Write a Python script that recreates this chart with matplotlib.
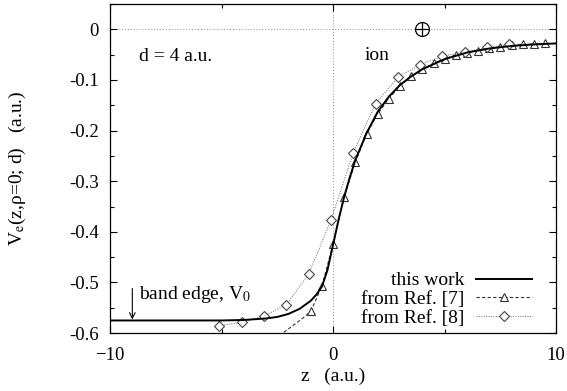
import numpy as np
import matplotlib
matplotlib.use('Agg')
import matplotlib.pyplot as plt
from matplotlib.ticker import MultipleLocator

plt.rcParams['font.family'] = ['Liberation Serif', 'DejaVu Serif']
plt.rcParams['mathtext.fontset'] = 'stix'

# this work: electron potential along the z axis (solid curve)
this_work_z = [-10, -6, -5, -4, -3, -2.5, -2, -1.5, -1, -0.75, -0.5, -0.25, 0,
               0.25, 0.5, 0.75, 1, 1.5, 2, 2.5, 3, 3.5, 4, 5, 6, 7, 8, 9, 10]
this_work_v = [-0.575, -0.575, -0.575, -0.574, -0.571, -0.568, -0.562, -0.552,
               -0.536, -0.524, -0.508, -0.475, -0.425, -0.375, -0.330, -0.292,
               -0.258, -0.205, -0.163, -0.133, -0.110, -0.093, -0.079, -0.059,
               -0.046, -0.038, -0.033, -0.030, -0.028]

# Ref. [7] (triangles) and the tail of its curve below the marked points
ref7_z = [-1, -0.5, 0, 0.5, 1, 1.5, 2, 2.5, 3, 3.5, 4, 4.5, 5, 5.5, 6, 6.5,
          7, 7.5, 8, 8.5, 9, 9.5]
ref7_v = [-0.557, -0.507, -0.424, -0.331, -0.262, -0.207, -0.167, -0.137,
          -0.112, -0.093, -0.079, -0.067, -0.058, -0.051, -0.046, -0.042,
          -0.038, -0.035, -0.032, -0.030, -0.029, -0.028]
ref7_tail_z = [-2.6, -2.2, -1.8, -1.4, -1]
ref7_tail_v = [-0.612, -0.598, -0.585, -0.572, -0.557]

# Ref. [8] (diamonds)
ref8_z = [-5.1, -4.1, -3.1, -2.1, -1.1, -0.1, 0.9, 1.9, 2.9, 3.9, 4.9, 5.9, 6.9, 7.9]
ref8_v = [-0.585, -0.579, -0.566, -0.544, -0.484, -0.377, -0.244, -0.147,
          -0.095, -0.070, -0.053, -0.045, -0.036, -0.030]

ion_z, ion_v = 4.0, 0.0
band_edge_z = -9.0
band_edge_v = -0.575

FS = 14

fig = plt.figure(figsize=(5.67, 3.91), dpi=100)
ax = fig.add_axes([0.194, 0.148, 0.787, 0.842])

# zero lines
ax.axhline(0, color='#888888', lw=0.7, ls=(0, (1, 2)), zorder=1)
ax.axvline(0, color='#888888', lw=0.7, ls=(0, (1, 2)), zorder=1)

ax.plot(this_work_z, this_work_v, color='black', lw=1.4, label='this work', zorder=4)
ax.plot(ref7_tail_z, ref7_tail_v, color='#333333', lw=0.8, ls=(0, (3, 2)), zorder=3)
ax.plot(ref7_z, ref7_v, color='#333333', lw=0.8, ls=(0, (3, 2)), marker='^',
        ms=6, mfc='white', mec='#333333', mew=0.8, label='from Ref. [7]', zorder=3)
ax.plot(ref8_z, ref8_v, color='#666666', lw=0.7, ls=(0, (1, 1.5)), marker='D',
        ms=5.5, mfc='white', mec='#444444', mew=0.8, label='from Ref. [8]', zorder=3)

# ion position
ax.plot([ion_z], [ion_v], marker='o', ms=10, mfc='white', mec='black', mew=0.9,
        ls='none', zorder=5)
ax.plot([ion_z], [ion_v], marker='+', ms=10, mec='black', mew=0.9, ls='none', zorder=6)

ax.annotate('', xy=(band_edge_z, band_edge_v + 0.002), xytext=(band_edge_z, -0.512),
            arrowprops=dict(arrowstyle='->', color='black', lw=0.8, shrinkA=0, shrinkB=0))
ax.text(-8.7, -0.524, 'band edge, V$_0$', fontsize=FS, va='center', ha='left')
ax.text(-8.7, -0.053, 'd = 4 a.u.', fontsize=FS, va='center', ha='left')
ax.text(1.4, -0.051, 'ion', fontsize=FS, va='center', ha='left')

ax.set_xlim(-10, 10)
ax.set_ylim(-0.6, 0.05)
ax.set_xticks([-10, 0, 10])
ax.xaxis.set_minor_locator(MultipleLocator(5))
ax.set_yticks([0, -0.1, -0.2, -0.3, -0.4, -0.5, -0.6])
ax.set_yticklabels(['0', '-0.1', '-0.2', '-0.3', '-0.4', '-0.5', '-0.6'])
ax.yaxis.set_minor_locator(MultipleLocator(0.05))
ax.tick_params(which='both', direction='in', top=True, right=True, labelsize=13.5)
ax.tick_params(which='major', length=5, width=0.8)
ax.tick_params(which='minor', length=3, width=0.8)
ax.tick_params(axis='x', pad=10)
ax.tick_params(axis='y', pad=8)
for s in ax.spines.values():
    s.set_linewidth(0.9)

ax.set_xlabel('z   (a.u.)', fontsize=FS)
ax.xaxis.set_label_coords(0.5, -0.105)
ax.set_ylabel('V$_\\mathrm{e}$(z,ρ=0; d)   (a.u.)', fontsize=FS)
ax.yaxis.set_label_coords(-0.184, 0.5)

ax.legend(loc='lower right', bbox_to_anchor=(0.946, 0.02), frameon=False,
          markerfirst=False, numpoints=1, fontsize=FS, handlelength=2.9,
          handletextpad=0.6, labelspacing=0.05, borderpad=0, borderaxespad=0)

fig.savefig('out.png', dpi=100)
